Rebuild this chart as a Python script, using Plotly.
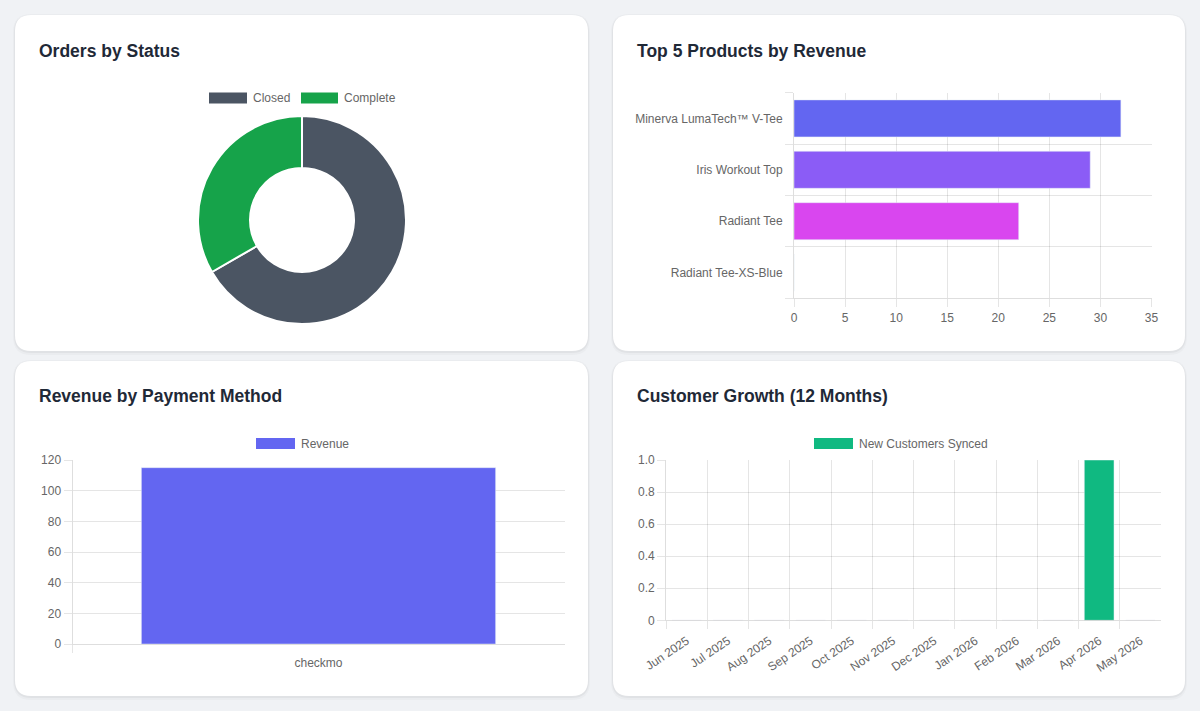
import plotly.graph_objects as go

W, H = 1200, 711

# ---------------- data ----------------
status_labels = ["Closed", "Complete"]
status_values = [2, 1]
status_colors = ["#4b5563", "#16a34a"]

product_names = ["Minerva LumaTech™ V-Tee", "Iris Workout Top", "Radiant Tee", "Radiant Tee-XS-Blue"]
product_revenue = [32, 29, 22, 0]
product_colors = ["#6366f1", "#8b5cf6", "#d946ef", "#ec4899"]
product_xticks = [0, 5, 10, 15, 20, 25, 30, 35]

payment_methods = ["checkmo"]
payment_revenue = [115]
payment_series = "Revenue"
payment_color = "#6366f1"
payment_yticks = [0, 20, 40, 60, 80, 100, 120]

months = ["Jun 2025", "Jul 2025", "Aug 2025", "Sep 2025", "Oct 2025", "Nov 2025",
          "Dec 2025", "Jan 2026", "Feb 2026", "Mar 2026", "Apr 2026", "May 2026"]
new_customers = [0, 0, 0, 0, 0, 0, 0, 0, 0, 0, 1, 0]
customers_series = "New Customers Synced"
customers_color = "#10b981"
customer_yticks = [0, 0.2, 0.4, 0.6, 0.8, 1.0]
customer_yticktext = ["0", "0.2", "0.4", "0.6", "0.8", "1.0"]

titles = ["Orders by Status", "Top 5 Products by Revenue",
          "Revenue by Payment Method", "Customer Growth (12 Months)"]

# ---------------- style ----------------
FONT = "Liberation Sans, Arial, Helvetica, sans-serif"
BG = "#f0f2f5"
GRID = "rgba(0,0,0,0.1)"
AXLINE = "rgba(0,0,0,0.13)"
TICKC = "#666666"
TITLEC = "#1f2937"


def fx(p):
    return p / W


def fy(p):
    return 1 - p / H


def rounded_path(x0, y0, x1, y1, r):
    pts = [
        ("M", (x0 + r, y0)), ("L", (x1 - r, y0)), ("Q", (x1, y0), (x1, y0 + r)),
        ("L", (x1, y1 - r)), ("Q", (x1, y1), (x1 - r, y1)), ("L", (x0 + r, y1)),
        ("Q", (x0, y1), (x0, y1 - r)), ("L", (x0, y0 + r)), ("Q", (x0, y0), (x0 + r, y0)),
    ]
    s = ""
    for item in pts:
        cmd = item[0]
        coords = " ".join(f"{fx(px):.5f},{fy(py):.5f}" for px, py in item[1:])
        s += f"{cmd}{coords} "
    return s + "Z"


fig = go.Figure()

# Donut
fig.add_trace(go.Pie(
    labels=status_labels, values=status_values, hole=0.5, sort=False,
    direction="clockwise", rotation=0,
    marker=dict(colors=status_colors, line=dict(color="white", width=2)),
    textinfo="none", showlegend=False, hoverinfo="label+value",
    domain=dict(x=[fx(198), fx(406)], y=[fy(324), fy(116)]),
))

# Horizontal bar (top right)
fig.add_trace(go.Bar(
    x=product_revenue, y=list(range(len(product_names))), orientation="h",
    marker=dict(color=product_colors), width=0.72, showlegend=False,
    xaxis="x", yaxis="y",
))

# Payment method (bottom left)
fig.add_trace(go.Bar(
    x=list(range(len(payment_methods))), y=payment_revenue,
    marker=dict(color=payment_color), width=0.72, showlegend=False,
    name=payment_series, xaxis="x2", yaxis="y2",
))

# Customer growth (bottom right)
fig.add_trace(go.Bar(
    x=list(range(len(months))), y=new_customers,
    marker=dict(color=customers_color), width=0.72, showlegend=False,
    name=customers_series, xaxis="x3", yaxis="y3",
))

tickfont = dict(family=FONT, size=12, color=TICKC)

n_prod = len(product_names)
fig.update_layout(
    xaxis=dict(
        domain=[fx(794), fx(1151.5)], anchor="y", range=[0, 35],
        tickmode="array", tickvals=product_xticks,
        showgrid=True, gridcolor=GRID, zeroline=False,
        ticks="outside", ticklen=8, tickcolor=GRID,
        showline=True, linecolor=AXLINE, tickfont=tickfont, automargin=False,
    ),
    yaxis=dict(
        domain=[fy(298.3), fy(92.7)], anchor="x", range=[n_prod - 0.5, -0.5],
        tickmode="array", tickvals=list(range(n_prod)), ticktext=product_names,
        showgrid=False, zeroline=False,
        ticks="outside", ticklen=8, tickcolor="rgba(0,0,0,0)",
        showline=True, linecolor=AXLINE, tickfont=tickfont, automargin=False,
        minor=dict(tickmode="array", tickvals=[i - 0.5 for i in range(n_prod + 1)],
                   ticks="outside", ticklen=8, tickcolor=GRID,
                   showgrid=True, gridcolor=GRID),
    ),
    xaxis2=dict(
        domain=[fx(72.5), fx(564.5)], anchor="y2", range=[-0.5, len(payment_methods) - 0.5],
        tickmode="array", tickvals=list(range(len(payment_methods))), ticktext=payment_methods,
        showgrid=False, zeroline=False,
        ticks="outside", ticklen=8, tickcolor="rgba(0,0,0,0)",
        showline=True, linecolor=AXLINE, tickfont=tickfont, automargin=False,
        minor=dict(tickmode="array", tickvals=[-0.5], ticks="outside", ticklen=8,
                   tickcolor=GRID, showgrid=False),
    ),
    yaxis2=dict(
        domain=[fy(644), fy(460)], anchor="x2", range=[0, 120],
        tickmode="array", tickvals=payment_yticks,
        showgrid=True, gridcolor=GRID, zeroline=False,
        ticks="outside", ticklen=8, tickcolor=GRID,
        showline=True, linecolor=AXLINE, tickfont=tickfont, automargin=False,
    ),
    xaxis3=dict(
        domain=[fx(666.2), fx(1161)], anchor="y3", range=[-0.5, len(months) - 0.5],
        tickmode="array", tickvals=list(range(len(months))), ticktext=months,
        tickangle=-34, showgrid=False, zeroline=False,
        ticks="outside", ticklen=8, tickcolor="rgba(0,0,0,0)",
        showline=True, linecolor=AXLINE, tickfont=tickfont, automargin=False,
        minor=dict(tickmode="array", tickvals=[i - 0.5 for i in range(len(months))],
                   ticks="outside", ticklen=8, tickcolor=GRID,
                   showgrid=True, gridcolor=GRID),
    ),
    yaxis3=dict(
        domain=[fy(620.3), fy(460)], anchor="x3", range=[0, 1],
        tickmode="array", tickvals=customer_yticks, ticktext=customer_yticktext,
        showgrid=True, gridcolor=GRID, zeroline=False,
        ticks="outside", ticklen=8, tickcolor=GRID,
        showline=True, linecolor=AXLINE, tickfont=tickfont, automargin=False,
    ),
)

# Cards with soft shadow
cards = [(15, 15, 588, 351), (613, 15, 1185, 351), (15, 361, 588, 696), (613, 361, 1185, 696)]
shapes = []
for (x0, y0, x1, y1) in cards:
    shapes.append(dict(type="path", xref="paper", yref="paper", layer="below",
                       path=rounded_path(x0 - 2, y0 - 1, x1 + 2, y1 + 4, 18),
                       fillcolor="rgba(0,0,0,0.025)", line=dict(width=0)))
    shapes.append(dict(type="path", xref="paper", yref="paper", layer="below",
                       path=rounded_path(x0 - 1, y0, x1 + 1, y1 + 2, 17),
                       fillcolor="rgba(0,0,0,0.04)", line=dict(width=0)))
    shapes.append(dict(type="path", xref="paper", yref="paper", layer="below",
                       path=rounded_path(x0, y0, x1, y1, 16),
                       fillcolor="#ffffff", line=dict(width=0)))

annotations = []
title_pos = [(37, 51), (635, 51), (37, 396), (635, 396)]
for t, (tx, ty) in zip(titles, title_pos):
    annotations.append(dict(text=t, xref="paper", yref="paper", x=fx(tx), y=fy(ty),
                            xanchor="left", yanchor="middle", showarrow=False,
                            font=dict(family=FONT, size=17.5, color=TITLEC, weight=700)))

# Custom legends (Chart.js style wide boxes)
legend_items = [
    (status_labels[0], status_colors[0], 209, 247, 98),
    (status_labels[1], status_colors[1], 301, 338, 98),
    (payment_series, payment_color, 256, 295, 443.5),
    (customers_series, customers_color, 814, 853, 443.5),
]
for label, color, bx0, bx1, cy in legend_items:
    shapes.append(dict(type="rect", xref="paper", yref="paper",
                       x0=fx(bx0), x1=fx(bx1), y0=fy(cy + 5.5), y1=fy(cy - 5.5),
                       fillcolor=color, line=dict(width=0)))
    annotations.append(dict(text=label, xref="paper", yref="paper", x=fx(bx1 + 4), y=fy(cy),
                            xanchor="left", yanchor="middle", showarrow=False,
                            font=dict(family=FONT, size=12, color=TICKC)))

fig.update_layout(
    width=W, height=H, autosize=False,
    margin=dict(l=0, r=0, t=0, b=0, pad=0, autoexpand=False),
    paper_bgcolor=BG, plot_bgcolor="rgba(0,0,0,0)",
    font=dict(family=FONT, size=12, color=TICKC),
    shapes=shapes, annotations=annotations,
    showlegend=False,
)

fig.write_html("out.html", config={"displayModeBar": False})
